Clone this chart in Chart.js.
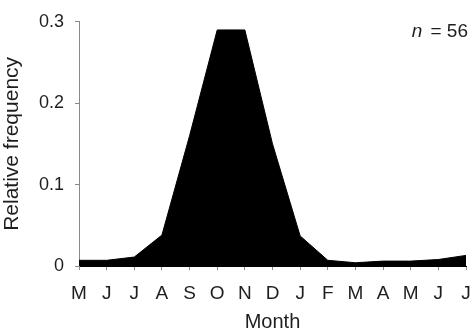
<!DOCTYPE html>
<html>
<head>
<meta charset="utf-8">
<script src="https://cdn.jsdelivr.net/npm/chart.js@4/dist/chart.umd.min.js"></script>
<style>
  html, body { margin: 0; padding: 0; background: #fff; }
  #wrap { width: 473px; height: 330px; }
</style>
</head>
<body>
<div id="wrap"><canvas id="chart" width="473" height="330"></canvas></div>
<script>
// Months of the sampling year, May through the following July
const months = ['M', 'J', 'J', 'A', 'S', 'O', 'N', 'D', 'J', 'F', 'M', 'A', 'M', 'J', 'J'];
// Relative frequency per month
const relFreq = [0.007, 0.007, 0.011, 0.038, 0.16, 0.290, 0.290, 0.150, 0.037, 0.007, 0.004, 0.006, 0.006, 0.008, 0.013];
// Y-axis tick values
const yTicks = [0, 0.1, 0.2, 0.3];
// Sample size shown in the corner
const sampleSize = 56;

const FONT = 'Liberation Sans, Arial, Helvetica, sans-serif';
const TEXT = '#1e1e1e';
const AXIS = '#8a8a8a';

// Corner annotation "n = 56" with an italic n
const sampleLabel = {
  id: 'sampleLabel',
  afterDraw(chart) {
    const { ctx, chartArea } = chart;
    ctx.save();
    ctx.fillStyle = TEXT;
    ctx.textBaseline = 'middle';
    const rest = ' = ' + sampleSize;
    ctx.font = '19px ' + FONT;
    const restW = ctx.measureText(rest).width;
    const xRight = chartArea.right + 2;
    const y = chartArea.top + 10;
    ctx.textAlign = 'left';
    ctx.fillText(rest, xRight - restW, y);
    ctx.font = 'italic 19px ' + FONT;
    const nW = ctx.measureText('n').width;
    ctx.fillText('n', xRight - restW - nW - 3, y);
    ctx.restore();
  }
};

new Chart(document.getElementById('chart'), {
  type: 'line',
  data: {
    labels: months,
    datasets: [{
      data: relFreq,
      fill: 'origin',
      backgroundColor: '#000',
      borderColor: '#000',
      borderWidth: 1,
      pointRadius: 0,
      tension: 0
    }]
  },
  options: {
    responsive: false,
    animation: false,
    devicePixelRatio: 1,
    layout: { padding: { left: 0, right: 7, top: 20, bottom: 0 } },
    plugins: { legend: { display: false }, tooltip: { enabled: false } },
    scales: {
      x: {
        type: 'category',
        offset: false,
        afterFit(scale) {
          scale.height = 64;
          // keep the end labels from pushing the plot inwards
          scale.paddingLeft = 0;
          scale.paddingRight = 7;
        },
        grid: { drawOnChartArea: false, drawTicks: true, tickLength: 4, color: AXIS },
        border: { display: true, color: '#000' },
        ticks: {
          color: TEXT,
          font: { family: FONT, size: 19 },
          padding: 12,
          maxRotation: 0,
          autoSkip: false
        },
        title: {
          display: true,
          text: 'Month',
          color: TEXT,
          font: { family: FONT, size: 20, lineHeight: 1 },
          padding: { top: 0, bottom: -2 }
        }
      },
      y: {
        min: 0,
        max: 0.3,
        afterFit(scale) { scale.width = 79; },
        afterBuildTicks(scale) { scale.ticks = yTicks.map(v => ({ value: v })); },
        grid: { drawOnChartArea: false, drawTicks: true, tickLength: 4, color: AXIS },
        border: { display: true, color: AXIS },
        ticks: {
          color: TEXT,
          font: { family: FONT, size: 18 },
          padding: 11,
          callback: v => (v === 0 ? '0' : v.toFixed(1))
        },
        title: {
          display: true,
          text: 'Relative frequency',
          color: TEXT,
          font: { family: FONT, size: 21 },
          padding: { top: 0, bottom: 3 }
        }
      }
    }
  },
  plugins: [sampleLabel]
});
</script>
</body>
</html>
